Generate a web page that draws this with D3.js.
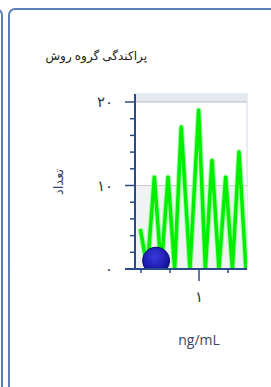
<!DOCTYPE html>
<html>
<head>
<meta charset="utf-8">
<script src="https://cdn.jsdelivr.net/npm/d3@7"></script>
<style>
  html, body { margin: 0; padding: 0; background: #fff; }
  svg { display: block; font-family: "Open Sans", "DejaVu Sans", sans-serif; }
</style>
</head>
<body>
<svg width="271" height="387"></svg>
<script>
// green spikes: x in ng/mL, count
const spikeX = [0.494, 0.554, 0.615, 0.674, 0.733, 0.79, 0.847, 0.922, 0.997, 1.055, 1.112, 1.172, 1.23, 1.288, 1.345, 1.405];
const spikeY = [4.8, 0, 11, 0, 11, 0, 17, 0, 19, 0, 13, 0, 11, 0, 14, 0];
// blue point
const pointX = [0.63];
const pointY = [1];
const yTicks = [0, 10, 20];
const yTickLabels = ["۰", "۱۰", "۲۰"];
const xTicks = [0.5, 0.75, 1, 1.25];
const xMajor = [1];
const xMajorLabels = ["۱"];

const svg = d3.select("svg");

// card frames
svg.append("rect").attr("x", -20).attr("y", 9).attr("width", 22).attr("height", 400)
  .attr("rx", 6).attr("fill", "none").attr("stroke", "#5b7db5").attr("stroke-width", 2);
svg.append("rect").attr("x", 9).attr("y", 9).attr("width", 300).attr("height", 400)
  .attr("rx", 6).attr("fill", "#fff").attr("stroke", "#5b7db5").attr("stroke-width", 2);

svg.append("text").attr("x", 147).attr("y", 60).attr("text-anchor", "end")
  .attr("font-size", 12).attr("fill", "#222").text("پراکندگی گروه روش");

const pLeft = 135, pRight = 247, pTop = 94;
const x = d3.scaleLinear().domain([0.448, 1.414]).range([pLeft, pRight]);
const y = d3.scaleLinear().domain([0, 20]).range([269, 102]);

// plot background
svg.append("rect").attr("x", pLeft).attr("y", pTop).attr("width", pRight - pLeft).attr("height", y(0) - pTop)
  .attr("fill", "#fff").attr("stroke", "#d3d9e6");
svg.append("rect").attr("x", pLeft).attr("y", pTop).attr("width", pRight - pLeft).attr("height", y(20) - pTop)
  .attr("fill", "#e3e8f1");
svg.append("rect").attr("x", pLeft).attr("y", y(10)).attr("width", pRight - pLeft).attr("height", y(0) - y(10))
  .attr("fill", "#f1f2f4");
svg.selectAll(".grid").data([10, 20]).enter().append("line")
  .attr("x1", pLeft).attr("x2", pRight).attr("y1", d => y(d)).attr("y2", d => y(d))
  .attr("stroke", d => d === 20 ? "#b4bccb" : "#c9cbd0").attr("stroke-width", 1.2);

svg.append("clipPath").attr("id", "pc").append("rect")
  .attr("x", pLeft).attr("y", pTop).attr("width", pRight - pLeft).attr("height", y(0) - pTop);

const plot = svg.append("g").attr("clip-path", "url(#pc)");
const line = d3.line().x((d, i) => x(spikeX[i])).y(d => y(d));
plot.append("path").datum(spikeY).attr("d", line).attr("fill", "none")
  .attr("stroke", "#a5ffa5").attr("stroke-width", 5.5).attr("stroke-linejoin", "round");
plot.append("path").datum(spikeY).attr("d", line).attr("fill", "none")
  .attr("stroke", "#00ee00").attr("stroke-width", 3.5).attr("stroke-linejoin", "round");

const grad = svg.append("defs").append("radialGradient").attr("id", "bg")
  .attr("cx", "45%").attr("cy", "35%").attr("r", "60%");
grad.append("stop").attr("offset", "0%").attr("stop-color", "#3a3ae0");
grad.append("stop").attr("offset", "100%").attr("stop-color", "#10109a");
plot.selectAll("circle").data(pointY).enter().append("circle")
  .attr("cx", (d, i) => x(pointX[i])).attr("cy", d => y(d)).attr("r", 13.5)
  .attr("fill", "url(#bg)").attr("stroke", "#0a0a60").attr("stroke-width", 1);

// y axis
const axisColor = "#2c4a86";
svg.append("line").attr("x1", pLeft).attr("x2", pLeft).attr("y1", pTop).attr("y2", y(0))
  .attr("stroke", axisColor).attr("stroke-width", 2);
svg.selectAll(".ymin").data(d3.range(0, 21, 2)).enter().append("line")
  .attr("x1", d => yTicks.includes(d) ? 125 : 130).attr("x2", pLeft)
  .attr("y1", d => y(d)).attr("y2", d => y(d)).attr("stroke", axisColor).attr("stroke-width", 1.5);
svg.selectAll(".ylab").data(yTicks).enter().append("text")
  .attr("x", 113).attr("y", d => y(d) + 5).attr("text-anchor", "end")
  .attr("font-size", 15).attr("fill", "#2a3550").text((d, i) => yTickLabels[i]);
svg.append("text").attr("transform", "translate(63,182) rotate(-90)").attr("text-anchor", "middle")
  .attr("font-size", 13).attr("fill", "#3a4a6a").text("تعداد");

// x axis
svg.append("line").attr("x1", 125).attr("x2", pRight).attr("y1", y(0)).attr("y2", y(0))
  .attr("stroke", axisColor).attr("stroke-width", 2);
svg.selectAll(".xt").data(xTicks).enter().append("line")
  .attr("x1", d => x(d)).attr("x2", d => x(d)).attr("y1", y(0))
  .attr("y2", d => xMajor.includes(d) ? 281 : 273).attr("stroke", axisColor).attr("stroke-width", 1.5);
svg.selectAll(".xlab").data(xMajor).enter().append("text")
  .attr("x", d => x(d)).attr("y", 302).attr("text-anchor", "middle")
  .attr("font-size", 15).attr("fill", "#2a3550").text((d, i) => xMajorLabels[i]);
svg.append("text").attr("x", x(1)).attr("y", 345).attr("text-anchor", "middle")
  .attr("font-size", 14).attr("fill", "#3a4660").text("ng/mL");
</script>
</body>
</html>
